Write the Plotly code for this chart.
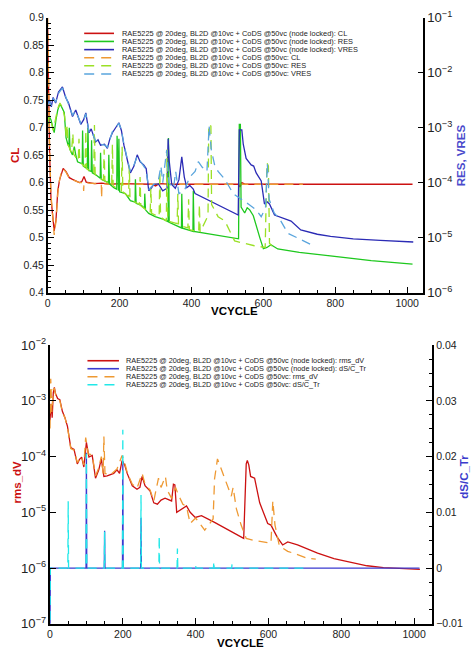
import plotly.graph_objects as go

# ---------------- top panel data ----------------
CL_V = [0, 2, 5, 9, 14, 18, 23, 28, 33, 37, 43, 51, 60, 69, 78, 88, 95, 101, 107, 115, 130, 150, 175, 200,
        250, 290, 300, 310, 350, 450, 530, 535, 540, 550, 600, 700, 800, 900, 1015]
CL = [0.88, 0.76, 0.66, 0.573, 0.538, 0.512, 0.532, 0.585, 0.605, 0.615, 0.626, 0.620, 0.609, 0.606, 0.603,
      0.600, 0.602, 0.611, 0.601, 0.600, 0.598, 0.599, 0.597, 0.598, 0.597, 0.597, 0.594, 0.598, 0.597, 0.597,
      0.597, 0.592, 0.600, 0.597, 0.597, 0.597, 0.597, 0.597, 0.597]

CL2_V = [0, 2, 5, 9, 14, 18, 23, 28, 33, 37, 43, 51, 60, 69, 78, 88, 99, 100, 101, 115, 149, 150, 151, 175,
         200, 250, 300, 400, 500, 600, 710]
CL2 = [0.9, 0.78, 0.67, 0.58, 0.53, 0.505, 0.53, 0.58, 0.605, 0.616, 0.625, 0.619, 0.608, 0.605, 0.602,
       0.600, 0.600, 0.585, 0.600, 0.599, 0.598, 0.572, 0.598, 0.597, 0.597, 0.597, 0.597, 0.597, 0.597,
       0.597, 0.597]

RES_V = [0, 4, 9, 14, 18, 23, 28, 33, 37, 46, 51, 56, 59, 60, 62, 69, 74, 78, 83, 96, 97, 99, 110, 112, 114,
         121, 122, 124, 133, 146, 147, 149, 161, 169, 170, 172, 184, 192, 193, 195, 197, 198, 200, 216, 230,
         243, 244, 246, 262, 269, 270, 272, 281, 299, 318, 335, 336, 338, 372, 373, 375, 404, 405, 407, 531,
         533, 536, 538, 548, 555, 562, 572, 580, 590, 600, 610, 621, 640, 700, 800, 900, 1015]
RES = [1.15e-3, 1.6e-3, 1.4e-3, 1.0e-3, 8.1e-4, 1.4e-3, 2.1e-3, 2.6e-3, 2.5e-3, 1.9e-3, 6.6e-4, 5.0e-4,
       4.5e-4, 1.0e-3, 4.0e-4, 3.2e-4, 4.5e-4, 3.2e-4, 2.4e-4, 2.2e-4, 8.9e-4, 2.0e-4, 1.8e-4, 1.0e-3,
       1.66e-4, 1.6e-4, 5.9e-4, 1.5e-4, 1.4e-4, 1.2e-4, 3.5e-4, 1.15e-4, 1.07e-4, 1.0e-4, 3.2e-4, 9.5e-5,
       8.1e-5, 7.6e-5, 7.1e-4, 7.4e-5, 7.1e-5, 6.3e-4, 6.8e-5, 6.3e-5, 4.7e-5, 4.4e-5, 1.15e-4, 4.2e-5,
       3.8e-5, 3.4e-5, 6.3e-5, 3.2e-5, 2.75e-5, 2.4e-5, 2.2e-5, 1.95e-5, 6.5e-4, 1.9e-5, 1.5e-5, 6.3e-5,
       1.48e-5, 1.3e-5, 7.1e-5, 1.29e-5, 9.5e-6, 1.15e-3, 1.15e-3, 3.6e-5, 2.8e-5, 3.5e-5, 3.2e-5, 2.5e-5,
       1.6e-5, 1.0e-5, 6.3e-6, 6.6e-6, 7.4e-6, 6.2e-6, 5.4e-6, 4.5e-6, 3.8e-6, 3.3e-6]

RES2_V = [0, 5, 10, 15, 20, 28, 34, 40, 47, 52, 54, 56, 66, 70, 72, 85, 87, 89, 104, 106, 108, 128, 130, 132,
          155, 157, 159, 178, 180, 182, 205, 207, 209, 225, 227, 229, 255, 257, 259, 285, 287, 289, 310, 312,
          314, 330, 332, 334, 360, 362, 364, 390, 392, 394, 420, 422, 424, 446, 448, 454, 456, 474, 493, 520,
          545, 575, 605, 610, 614, 617, 630]
RES2 = [1.26e-3, 1.66e-3, 1.26e-3, 8.9e-4, 1.26e-3, 2.24e-3, 2.8e-3, 2.4e-3, 1.6e-3, 6.3e-4, 1.12e-3,
        5.0e-4, 3.5e-4, 7.9e-4, 3.3e-4, 2.5e-4, 6.3e-4, 2.4e-4, 1.9e-4, 8.9e-4, 1.8e-4, 1.45e-4, 1.12e-3,
        1.4e-4, 1.1e-4, 4.0e-4, 1.07e-4, 8.9e-5, 5.0e-4, 8.7e-5, 7.1e-5, 4.5e-4, 6.8e-5, 5.6e-5, 2.0e-4,
        5.0e-5, 4.0e-5, 1.26e-4, 3.8e-5, 2.8e-5, 7.9e-5, 2.75e-5, 2.4e-5, 1.6e-4, 2.35e-5, 2.0e-5, 4.0e-4,
        2.0e-5, 1.8e-5, 6.3e-5, 1.66e-5, 1.5e-5, 5.0e-5, 1.4e-5, 1.26e-5, 4.0e-5, 1.26e-5, 2.5e-5, 1.15e-3,
        1.07e-3, 4.0e-5, 2.4e-5, 2.0e-5, 8.7e-6, 7.9e-6, 7.1e-6, 6.6e-6, 2.3e-4, 2.0e-4, 7.9e-6, 6.3e-6]

VRES_V = [0, 5, 10, 15, 22, 30, 41, 50, 58, 64, 69, 78, 85, 92, 100, 106, 115, 121, 133, 140, 147, 158, 166,
          173, 180, 190, 198, 205, 212, 222, 230, 240, 249, 257, 267, 274, 281, 288, 295, 308, 320, 332, 335,
          338, 345, 355, 365, 373, 380, 387, 395, 405, 410, 530, 533, 540, 544, 552, 566, 573, 580, 594, 603,
          610, 617, 631, 658, 677, 704, 750, 787, 850, 925, 1017]
VRES = [2.8e-3, 3.16e-3, 2.4e-3, 3.55e-3, 2.8e-3, 4.47e-3, 5.5e-3, 3.55e-3, 2.8e-3, 2.0e-3, 1.6e-3, 2.1e-3,
        1.5e-3, 1.15e-3, 1.4e-3, 1.86e-3, 8.1e-4, 9.5e-4, 5.5e-4, 6.0e-4, 4.8e-4, 5.0e-4, 4.2e-4, 6.3e-4,
        8.1e-4, 1.05e-3, 1.23e-3, 8.9e-4, 4.8e-4, 2.5e-4, 1.5e-4, 2.0e-4, 3.2e-4, 2.4e-4, 2.1e-4, 1.8e-4,
        7.1e-5, 7.9e-5, 9.3e-5, 9.5e-5, 7.1e-5, 7.9e-5, 6.3e-4, 2.5e-4, 9.3e-5, 7.9e-5, 1.12e-4, 2.95e-4,
        1.26e-4, 8.1e-5, 8.9e-5, 7.6e-5, 6.3e-5, 2.57e-5, 9.1e-4, 9.1e-4, 5.0e-4, 2.75e-4, 2.1e-4, 2.0e-4,
        1.5e-4, 1.07e-4, 4.1e-5, 4.5e-5, 4.1e-5, 2.57e-5, 2.2e-5, 2.0e-5, 1.38e-5, 1.15e-5, 1.05e-5, 9.5e-6,
        8.9e-6, 8.3e-6]

VRES2_V = [0, 5, 10, 15, 22, 30, 41, 50, 58, 64, 69, 78, 85, 92, 100, 106, 115, 121, 133, 140, 147, 158, 166,
           173, 180, 190, 198, 205, 212, 222, 230, 240, 249, 257, 267, 274, 281, 290, 300, 308, 315, 320, 331,
           337, 350, 356, 365, 380, 395, 410, 419, 430, 443, 449, 455, 465, 474, 493, 516, 540, 560, 580, 594,
           606, 611, 616, 630, 645, 668, 700, 730]
VRES2 = [2.6e-3, 3.0e-3, 2.5e-3, 3.4e-3, 2.9e-3, 4.2e-3, 5.3e-3, 3.7e-3, 2.7e-3, 2.1e-3, 1.7e-3, 2.0e-3,
         1.6e-3, 1.2e-3, 1.35e-3, 1.8e-3, 8.5e-4, 9.0e-4, 5.8e-4, 5.8e-4, 5.0e-4, 4.8e-4, 4.4e-4, 6.0e-4,
         8.5e-4, 1.0e-3, 1.2e-3, 9.2e-4, 5.0e-4, 2.6e-4, 1.6e-4, 2.1e-4, 3.0e-4, 2.5e-4, 2.0e-4, 1.7e-4,
         7.5e-5, 8.5e-5, 1.0e-4, 1.12e-4, 2.0e-4, 1.0e-4, 3.9e-4, 1.0e-4, 7.9e-5, 1.6e-4, 6.3e-5, 7.1e-5,
         1.26e-4, 1.6e-4, 2.4e-4, 1.9e-4, 1.6e-4, 1.07e-3, 4.0e-4, 2.0e-4, 1.6e-4, 1.15e-4, 6.3e-5, 5.0e-5,
         4.0e-5, 3.2e-5, 2.4e-5, 3.5e-5, 2.24e-4, 5.0e-5, 2.8e-5, 2.2e-5, 1.2e-5, 9.5e-6, 7.6e-6]

# ---------------- bottom panel data ----------------
RMS_V = [0, 3, 6, 9, 12, 15, 21, 27, 34, 41, 48, 57, 66, 75, 81, 87, 93, 100, 107, 116, 125, 134, 141, 148,
         157, 166, 175, 184, 191, 198, 205, 212, 226, 239, 247, 253, 261, 275, 285, 295, 305, 316, 334, 339,
         343, 348, 360, 375, 385, 399, 416, 452, 532, 539, 542, 546, 551, 562, 576, 589, 598, 607, 624, 639,
         653, 680, 713, 735, 780, 825, 871, 916, 962, 1016]
RMS = [4.5e-4, 8.9e-4, 5.0e-4, 1.4e-3, 1.74e-3, 1.35e-3, 1.1e-3, 1.05e-3, 6.5e-4, 5.0e-4, 3.5e-4, 1.45e-4,
       1.35e-4, 7.4e-5, 8.9e-5, 9.8e-5, 6.5e-5, 1.8e-4, 9.8e-5, 1.05e-4, 4.1e-5, 5.8e-5, 9.1e-5, 4.4e-5,
       4.5e-5, 4.7e-5, 5.0e-5, 5.8e-5, 5.0e-5, 8.5e-5, 7.1e-5, 5.0e-5, 3.0e-5, 2.6e-5, 2.8e-5, 4.4e-5,
       3.0e-5, 2.4e-5, 1.48e-5, 1.4e-5, 1.66e-5, 1.8e-5, 1.6e-5, 3.2e-5, 3.1e-5, 1.0e-5, 1.12e-5, 1.3e-5,
       1.0e-5, 8.1e-6, 8.7e-6, 6.6e-6, 3.4e-6, 7.4e-5, 8.5e-5, 7.1e-5, 4.4e-5, 4.1e-5, 1.48e-5, 9.3e-6,
       6.3e-6, 5.9e-6, 3.6e-6, 2.6e-6, 2.95e-6, 2.6e-6, 2.1e-6, 1.86e-6, 1.48e-6, 1.26e-6, 1.1e-6, 1.02e-6,
       9.8e-7, 9.5e-7]

RMS2_V = [0, 2, 5, 9, 12, 16, 21, 27, 34, 41, 48, 57, 66, 75, 87, 93, 98, 105, 116, 125, 134, 141, 146, 148,
          151, 166, 184, 198, 205, 212, 226, 239, 253, 261, 275, 285, 298, 305, 317, 322, 334, 345, 352, 365,
          375, 385, 400, 425, 448, 452, 460, 471, 484, 498, 503, 512, 525, 539, 557, 580, 607, 612, 618, 630,
          653, 680, 707, 730]
RMS2 = [3.2e-4, 2.5e-3, 6.3e-4, 1.6e-3, 1.66e-3, 1.26e-3, 1.12e-3, 1.0e-3, 6.3e-4, 5.0e-4, 3.4e-4, 1.4e-4,
        1.3e-4, 7.9e-5, 1.0e-4, 7.1e-5, 2.2e-4, 1.12e-4, 1.07e-4, 4.5e-5, 6.3e-5, 1.0e-4, 5.0e-5, 2.3e-4,
        5.0e-5, 4.7e-5, 6.0e-5, 1.05e-4, 7.9e-5, 5.2e-5, 3.2e-5, 2.7e-5, 5.0e-5, 3.2e-5, 2.5e-5, 1.6e-5,
        4.1e-5, 2.8e-5, 4.4e-5, 2.5e-5, 1.78e-5, 2.8e-5, 2.1e-5, 1.4e-5, 1.26e-5, 6.3e-6, 7.9e-6, 4.8e-6,
        7.6e-6, 4.0e-5, 9.1e-5, 5.8e-5, 3.3e-5, 1.95e-5, 2.8e-5, 1.15e-5, 5.9e-6, 3.4e-6, 3.16e-6, 3.0e-6,
        2.8e-6, 1.6e-5, 5.9e-6, 2.5e-6, 2.0e-6, 1.74e-6, 1.5e-6, 1.45e-6]

DSC_V = [0, 1, 99, 100, 101, 149, 150, 151, 199, 200, 201, 249, 250, 251, 1015]
DSC = [-0.012, 0, 0, 0.0207, 0, 0, 0.0067, 0, 0, 0.0192, 0, 0, 0.009, 0, 0]

DSC2_V = [0, 1, 49, 50, 51, 99, 100, 101, 149, 150, 151, 199, 200, 201, 249, 250, 251, 299, 300, 301,
          349, 350, 351, 399, 400, 401, 449, 450, 451, 499, 500, 501, 710]
DSC2 = [-0.012, 0, 0, 0.012, 0, 0, 0.0205, 0, 0, 0.0065, 0, 0, 0.0248, 0, 0, 0.0131, 0, 0, 0.0058, 0,
        0, 0.0035, 0, 0, 0.0004, 0, 0, 0.0012, 0, 0, 0.0007, 0, 0]

LEG_PREFIX = "RAE5225 @ 20deg, BL2D @10vc + CoDS @50vc"
TOP_NAMES = [LEG_PREFIX + " (node locked): CL", LEG_PREFIX + " (node locked): RES",
             LEG_PREFIX + " (node locked): VRES", LEG_PREFIX + ": CL", LEG_PREFIX + ": RES",
             LEG_PREFIX + ": VRES"]
BOT_NAMES = [LEG_PREFIX + " (node locked): rms_dV", LEG_PREFIX + " (node locked): dS/C_Tr",
             LEG_PREFIX + ": rms_dV", LEG_PREFIX + ": dS/C_Tr"]

# ---------------- styling ----------------
W, H = 474, 662
FONT = "Liberation Sans, Arial, sans-serif"
C_RED = "#cc1111"
C_GREEN = "#1ec81e"
C_BLUE = "#2b2bb5"
C_ORANGE = "#ee9933"
C_LGREEN = "#9be026"
C_LBLUE = "#5aa5dd"
C_CYAN = "#22e8e8"
C_BLUE2 = "#3a3ad0"
DASH = "9px,6px"
LW = 1.3

top_styles = [(C_RED, "solid"), (C_GREEN, "solid"), (C_BLUE, "solid"),
              (C_ORANGE, DASH), (C_LGREEN, DASH), (C_LBLUE, DASH)]
bot_styles = [(C_RED, "solid"), (C_BLUE2, "solid"), (C_ORANGE, DASH), (C_CYAN, DASH)]

fig = go.Figure()
# top panel traces
fig.add_trace(go.Scatter(x=CL_V, y=CL, mode="lines", line=dict(color=C_RED, width=LW), xaxis="x", yaxis="y"))
fig.add_trace(go.Scatter(x=RES_V, y=RES, mode="lines", line=dict(color=C_GREEN, width=LW), xaxis="x", yaxis="y2"))
fig.add_trace(go.Scatter(x=VRES_V, y=VRES, mode="lines", line=dict(color=C_BLUE, width=LW), xaxis="x", yaxis="y2"))
fig.add_trace(go.Scatter(x=CL2_V, y=CL2, mode="lines", line=dict(color=C_ORANGE, width=LW, dash=DASH), xaxis="x", yaxis="y"))
fig.add_trace(go.Scatter(x=RES2_V, y=RES2, mode="lines", line=dict(color=C_LGREEN, width=LW, dash=DASH), xaxis="x", yaxis="y2"))
fig.add_trace(go.Scatter(x=VRES2_V, y=VRES2, mode="lines", line=dict(color=C_LBLUE, width=LW, dash=DASH), xaxis="x", yaxis="y2"))
# bottom panel traces
fig.add_trace(go.Scatter(x=RMS_V, y=RMS, mode="lines", line=dict(color=C_RED, width=LW), xaxis="x2", yaxis="y3"))
fig.add_trace(go.Scatter(x=DSC_V, y=DSC, mode="lines", line=dict(color=C_BLUE2, width=LW), xaxis="x2", yaxis="y4"))
fig.add_trace(go.Scatter(x=RMS2_V, y=RMS2, mode="lines", line=dict(color=C_ORANGE, width=LW, dash=DASH), xaxis="x2", yaxis="y3"))
fig.add_trace(go.Scatter(x=DSC2_V, y=DSC2, mode="lines", line=dict(color=C_CYAN, width=LW, dash=DASH), xaxis="x2", yaxis="y4"))

def px_x(p):
    return p / W

def px_y(p):
    return 1 - p / H

def log_minor(e0, e1):
    return [m * 10.0 ** e for e in range(e0, e1) for m in range(2, 10)]

axis_common = dict(showline=True, linecolor="black", linewidth=1.6, ticks="inside", ticklen=6,
                   tickwidth=1.2, tickcolor="black", showgrid=False, zeroline=False,
                   tickfont=dict(family=FONT, size=10.5, color="#222"))
minor_common = dict(ticks="inside", ticklen=3, tickwidth=1, tickcolor="black", showgrid=False)
# extra tick-only axes to draw log minor ticks
minor_axis = dict(ticks="inside", ticklen=3, tickwidth=1, tickcolor="black", showgrid=False,
                  zeroline=False, showline=False, showticklabels=False, type="log", tickmode="array")

top_xd = [px_x(45), px_x(423)]
bot_xd = [px_x(47.3), px_x(432)]
top_yd = [px_y(291), px_y(9)]
bot_yd = [px_y(631), px_y(345)]

fig.update_layout(
    width=W, height=H, autosize=False,
    margin=dict(l=0, r=0, t=0, b=0),
    paper_bgcolor="white", plot_bgcolor="white",
    showlegend=False,
    xaxis=dict(domain=top_xd, anchor="y", range=[0, 1045], dtick=200, tick0=0,
               minor=dict(dtick=50, **minor_common), **axis_common),
    yaxis=dict(domain=top_yd, anchor="x", range=[0.4, 0.9], dtick=0.05, tick0=0.4,
               minor=dict(dtick=0.01, **minor_common), **axis_common),
    yaxis2=dict(overlaying="y", anchor="x", side="right", type="log", range=[-6, -1], dtick=1,
                exponentformat="power", **axis_common),
    yaxis5=dict(overlaying="y", anchor="x", side="right", range=[-6, -1],
                tickvals=log_minor(-6, -1), **minor_axis),
    xaxis2=dict(domain=bot_xd, anchor="y3", range=[0, 1050], dtick=200, tick0=0,
                minor=dict(dtick=50, **minor_common), **axis_common),
    yaxis3=dict(domain=bot_yd, anchor="x2", type="log", range=[-7, -2], dtick=1, exponentformat="power",
                **axis_common),
    yaxis6=dict(overlaying="y3", anchor="x2", side="left", range=[-7, -2],
                tickvals=log_minor(-7, -2), **minor_axis),
    yaxis4=dict(overlaying="y3", anchor="x2", side="right", range=[-0.01, 0.04], dtick=0.01, tick0=0,
                minor=dict(dtick=0.0025, **minor_common), **axis_common),
)

annotations = []
shapes = []

def title(text, x, y, color, angle=0, size=11.5):
    annotations.append(dict(text="<b>" + text + "</b>", x=px_x(x), y=px_y(y), xref="paper", yref="paper",
                            showarrow=False, textangle=angle, xanchor="center", yanchor="middle",
                            font=dict(family=FONT, size=size, color=color)))

title("CL", 12, 150, C_RED, -90)
title("RES, VRES", 461, 150, "#4b4bcc", -90)
title("VCYCLE", 233, 310, "black")
title("rms_dV", 14, 485, C_RED, -90)
title("dS/C_Tr", 464, 480, "#3b3bcc", -90)
title("VCYCLE", 239, 651, "black")

def legend(names, styles, x0, x1, xt, ys, fsize):
    for name, (col, dash), yy in zip(names, styles, ys):
        shapes.append(dict(type="line", xref="paper", yref="paper", x0=px_x(x0), x1=px_x(x1),
                           y0=px_y(yy), y1=px_y(yy),
                           line=dict(color=col, width=1.6, dash=("solid" if dash == "solid" else "10px,7px"))))
        annotations.append(dict(text=name, x=px_x(xt), y=px_y(yy), xref="paper", yref="paper",
                                showarrow=False, xanchor="left", yanchor="middle",
                                font=dict(family=FONT, size=fsize, color="#222")))

legend(TOP_NAMES, top_styles, 81.7, 111.7, 117.5, [25, 33.3, 41.7, 50, 58.3, 66.7], 7.4)
legend(BOT_NAMES, bot_styles, 85, 116.7, 121.5, [361.0, 369.2, 377.4, 385.6], 7.3)

fig.update_layout(annotations=annotations, shapes=shapes)
fig.write_html("out.html")
